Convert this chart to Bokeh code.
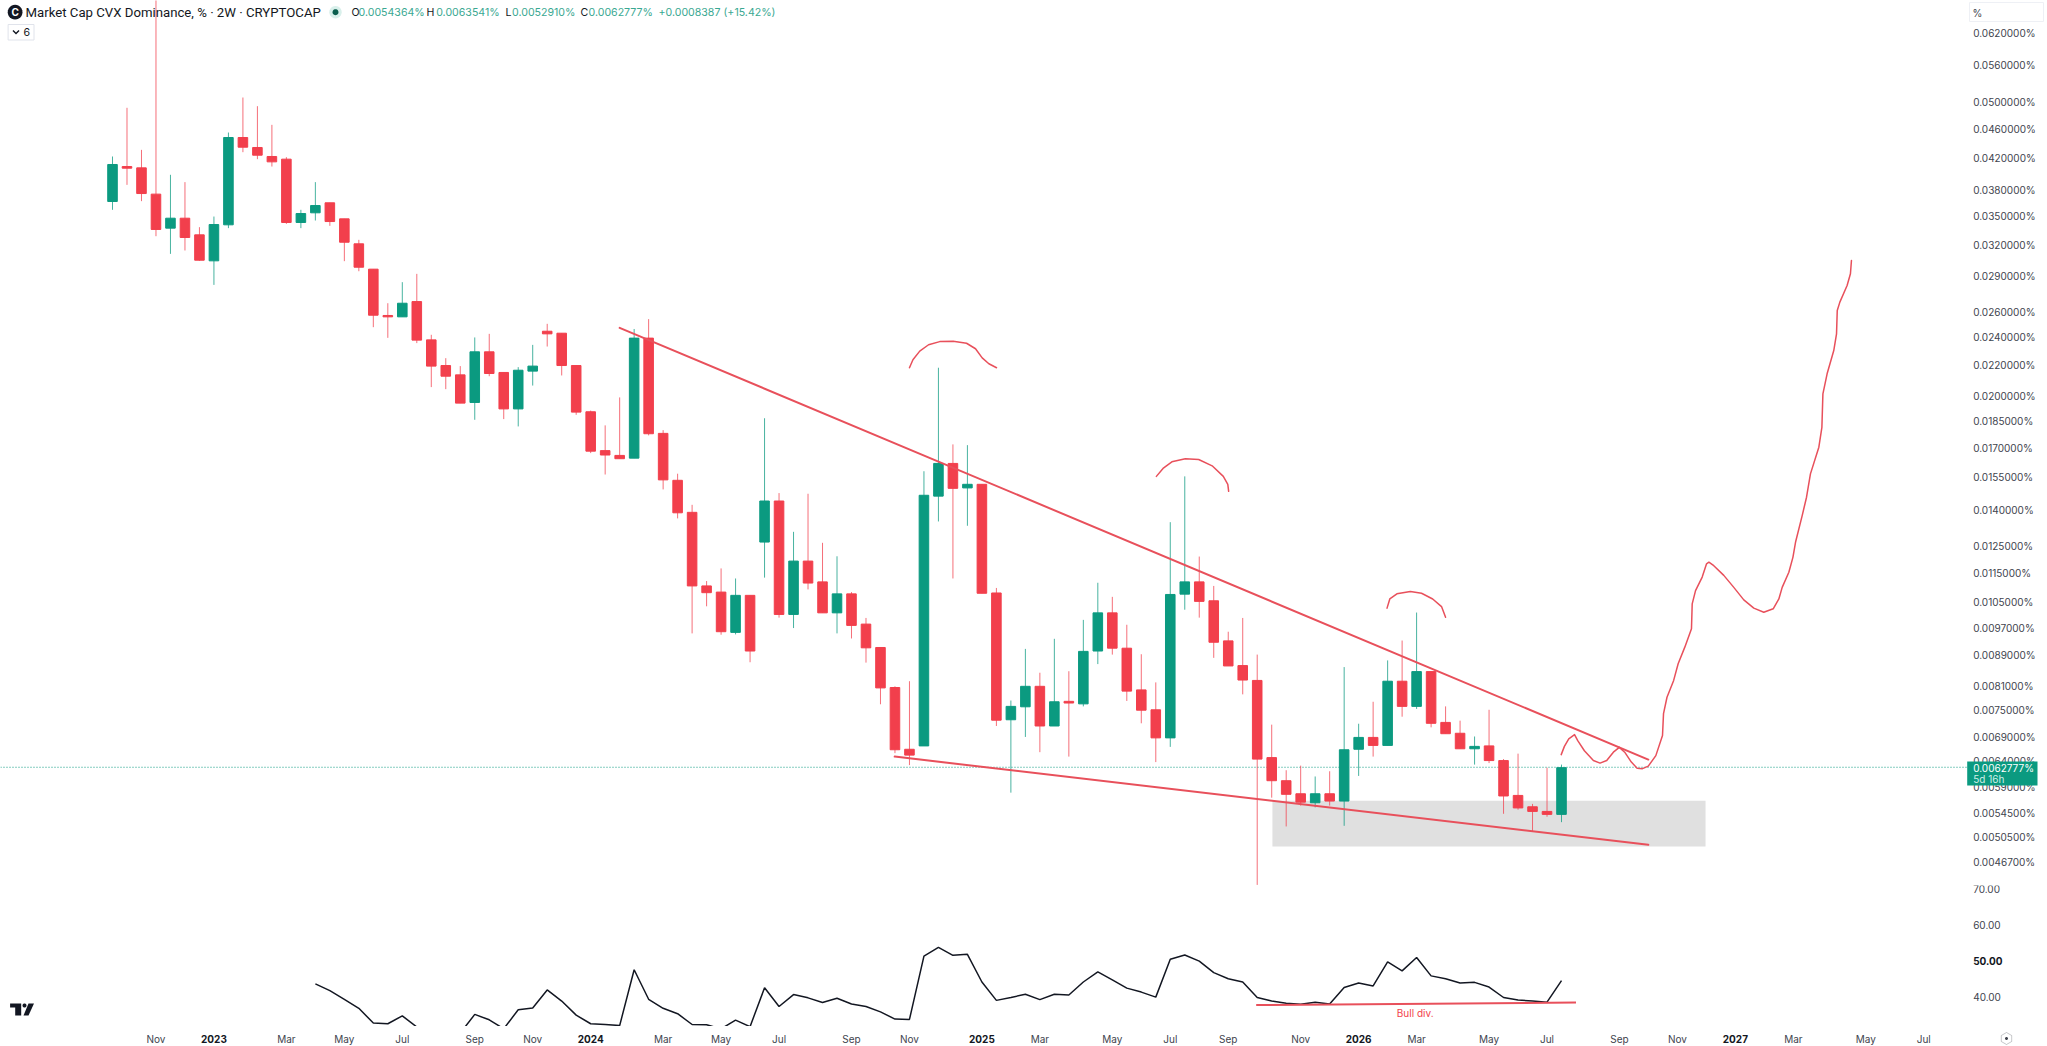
import numpy as np
from bokeh.core.properties import value
from bokeh.embed import file_html
from bokeh.resources import INLINE
from bokeh.layouts import column
from bokeh.models import ColumnDataSource, Label, PolyAnnotation, Range1d
from bokeh.plotting import figure

# Prices are in hundredths of one percent of market share (6.2 = 0.0620000%)
OPEN = [3.664,4.086,4.069,3.749,3.372,3.478,3.302,3.045,3.407,4.473,4.336,4.216,4.181,3.432,3.537,3.649,3.471,3.211,2.967,2.568,2.557,2.682,2.380,2.197,2.134,
1.958,2.293,2.150,1.919,2.159,2.445,2.430,2.197,1.902,1.685,1.660,1.646,2.393,1.778,1.536,1.390,1.105,1.084,0.956,1.073,1.267,1.440,1.011,1.194,1.119,
1.016,1.078,0.981,0.912,0.805,0.664,0.671,1.462,1.619,1.500,1.517,1.081,0.728,0.758,0.808,0.714,0.771,0.765,0.902,1.016,0.910,0.799,0.751,0.688,1.077,
1.119,1.055,0.931,0.862,0.823,0.647,0.602,0.578,0.562,0.578,0.565,0.664,0.689,0.672,0.821,0.759,0.846,0.722,0.698,0.665,0.671,0.641,0.575,0.555,0.547,
0.542]
HIGH = [4.216,4.907,4.304,7.298,3.982,3.892,3.382,3.496,4.543,5.067,4.932,4.653,4.207,3.570,3.892,3.649,3.471,3.251,2.967,2.668,2.849,2.924,2.418,2.248,2.193,
2.398,2.425,2.150,2.186,2.343,2.502,2.430,2.197,1.909,1.823,1.989,2.462,2.539,1.796,1.568,1.423,1.122,1.167,1.131,1.073,1.864,1.476,1.308,1.473,1.264,
1.212,1.084,1.000,0.912,0.808,0.821,1.580,2.182,1.718,1.714,1.517,1.098,0.773,0.908,0.843,0.937,0.847,0.994,1.116,1.068,0.979,0.893,0.818,1.348,1.555,
1.211,1.105,0.958,1.000,0.892,0.717,0.622,0.631,0.610,0.620,0.858,0.719,0.770,0.876,0.932,1.017,0.846,0.759,0.726,0.691,0.751,0.644,0.655,0.560,0.627,
0.633]
LOW = [3.570,3.859,3.668,3.288,3.112,3.145,3.045,2.825,3.372,4.273,4.181,4.086,3.417,3.372,3.453,3.396,3.042,2.948,2.476,2.395,2.557,2.356,2.054,2.041,1.954,
1.855,2.125,1.859,1.817,2.064,2.331,2.130,1.884,1.672,1.564,1.643,1.646,1.767,1.493,1.364,0.953,1.037,0.949,0.950,0.871,1.134,1.001,0.969,1.093,1.016,
0.953,0.938,0.870,0.764,0.656,0.632,0.671,1.351,1.131,1.333,1.080,0.714,0.580,0.690,0.658,0.714,0.649,0.759,0.866,0.892,0.772,0.720,0.638,0.669,1.026,
1.001,0.883,0.861,0.788,0.435,0.571,0.522,0.557,0.554,0.557,0.523,0.611,0.649,0.672,0.735,0.753,0.711,0.697,0.665,0.633,0.636,0.543,0.550,0.514,0.538,
0.529]
CLOSE = [4.112,4.065,3.756,3.358,3.478,3.275,3.051,3.410,4.473,4.340,4.233,4.146,3.432,3.529,3.618,3.442,3.227,2.985,2.570,2.557,2.668,2.378,2.193,2.125,1.954,
2.293,2.143,1.919,2.165,2.193,2.425,2.197,1.900,1.682,1.662,1.643,2.393,1.776,1.538,1.388,1.105,1.082,0.958,1.073,0.902,1.440,1.011,1.194,1.115,1.016,
1.078,0.977,0.911,0.804,0.663,0.652,1.466,1.619,1.498,1.517,1.080,0.727,0.759,0.808,0.714,0.770,0.767,0.901,1.016,0.910,0.796,0.750,0.688,1.076,1.119,
1.053,0.927,0.861,0.824,0.644,0.602,0.577,0.563,0.578,0.565,0.663,0.689,0.672,0.821,0.759,0.846,0.720,0.697,0.665,0.670,0.641,0.574,0.553,0.547,0.542,
0.627]
LAST_PRICE = 0.62777

RSI_FIRST_BAR = 14
RSI = [43.8,41.9,39.5,37.0,32.9,32.7,34.9,31.8,29.9,29.0,30.1,35.3,33.8,31.3,36.6,37.1,42.1,39.0,35.1,32.7,32.5,32.2,47.7,39.5,37.0,35.5,32.5,32.4,31.3,33.7,31.9,42.7,
37.5,40.8,39.9,38.6,39.8,38.2,37.5,36.0,
34.0,33.9,51.5,53.9,51.7,52.0,44.3,39.2,40.0,40.9,39.4,40.9,40.7,44.3,47.1,44.9,42.6,41.5,40.1,50.6,51.8,50.1,46.9,45.2,44.3,40.0,39.0,38.4,38.1,38.7,38.2,42.8,
44.0,43.2,49.9,47.4,51.1,46.0,45.2,44.0,
44.2,42.9,40.0,39.3,39.0,38.7,44.7]

PRICE_TICKS = [6.2,5.6,5.0,4.6,4.2,3.8,3.5,3.2,2.9,2.6,2.4,2.2,2.0,1.85,1.7,1.55,1.4,1.25,1.15,1.05,0.97,0.89,0.81,0.75,0.69,0.64,0.59,0.545,0.505,0.467]
PRICE_LABELS = ["0.0620000%","0.0560000%","0.0500000%","0.0460000%","0.0420000%","0.0380000%","0.0350000%","0.0320000%","0.0290000%","0.0260000%","0.0240000%","0.0220000%","0.0200000%","0.0185000%","0.0170000%","0.0155000%","0.0140000%","0.0125000%","0.0115000%","0.0105000%","0.0097000%","0.0089000%","0.0081000%","0.0075000%","0.0069000%","0.0064000%","0.0059000%","0.0054500%","0.0050500%","0.0046700%"]
RSI_TICKS = [70,60,40]
RSI_LABELS = ["70.00","60.00","40.00"]
RSI_BOLD_TICK = 50
RSI_BOLD_LABEL = "50.00"
MONTH_TICKS = [3,12,16,20,25,29,38,42,46,51,55,64,69,73,77,82,90,95,99,104,108,116,121,125]
MONTH_LABELS = ["Nov","Mar","May","Jul","Sep","Nov","Mar","May","Jul","Sep","Nov","Mar","May","Jul","Sep","Nov","Mar","May","Jul","Sep","Nov","Mar","May","Jul"]
YEAR_TICKS = [7,33,60,86,112]
YEAR_LABELS = ["2023","2024","2025","2026","2027"]

ZONE_X = [80.05,109.94]
ZONE_Y = [0.4905,0.5654]
UPPER_X = [35.0,105.99]
UPPER_Y = [2.471,0.643]
LOWER_X = [53.98,105.99]
LOWER_Y = [0.649,0.493]
ARCH1_X = [55.00,55.24,55.71,56.32,57.09,58.02,58.94,59.56,60.02,60.48,61.01]
ARCH1_Y = [2.182,2.237,2.298,2.344,2.367,2.370,2.355,2.315,2.250,2.209,2.182]
ARCH2_X = [72.04,72.50,73.11,74.04,74.96,75.89,76.66,76.97,77.03]
ARCH2_Y = [1.555,1.594,1.627,1.643,1.639,1.607,1.555,1.517,1.484]
ARCH3_X = [87.96,88.15,88.64,89.57,90.34,91.11,91.72,92.00]
ARCH3_Y = [1.031,1.061,1.078,1.086,1.080,1.061,1.036,1.002]
PATH_X = [99.98,100.20,100.50,100.90,101.12,101.58,102.20,102.66,103.12,103.58,103.99,104.36,104.82,105.22,105.59,105.99,106.51,106.97,107.04,107.28,107.74,108.05,108.51,108.97,
109.02,109.25,109.71,110.01,110.17,110.51,111.20,111.89,112.58,113.27,113.96,114.61,115.00,115.23,115.69,115.97,116.15,116.61,116.91,117.18,117.76,117.97,118.04,118.33,118.79,118.98,119.03,119.21,119.71,119.94,120.01]
PATH_Y = [0.653,0.670,0.686,0.695,0.682,0.661,0.641,0.636,0.641,0.658,0.668,0.658,0.638,0.626,0.625,0.630,0.651,0.693,0.742,0.781,0.823,0.867,0.913,0.967,
1.045,1.089,1.136,1.184,1.190,1.177,1.142,1.100,1.058,1.031,1.018,1.029,1.061,1.100,1.153,1.208,1.266,1.376,1.457,1.567,1.703,1.812,2.011,2.141,2.302,2.425,2.608,2.677,2.820,2.925,3.048]
BULL_X = [78.93,101.0]
BULL_Y = [37.9,38.6]
BULL_TEXT_AT = (89.9,35.6)

RED, GREEN, DRAW = "#f23f4c", "#0b9a80", "#e8505b"
INK, AXIS_INK, TEAL = "#131722", "#41444e", "#3aa892"
FONT = "Inter"
SCALE_PX = "10px"

W, P_H, R_H, B_H = 2047, 885, 141, 20
X0, X1 = -7.73, 133.54          # bar numbers at the page's left and right edges
SCALE_EDGE = 127.95             # where the plotting area meets the price scale
LABEL_X = 128.41                # left edge of the scale's texts

def bar_at(px):
    return (px - 112) / 14.49

def price_at(py):
    return 6.2 * np.exp(-(py - 32.3) / 320.7)

def clean(fig):
    fig.grid.visible = False
    fig.xaxis.visible = False
    fig.yaxis.visible = False

kw = dict(width=W, output_backend="svg", toolbar_location=None, min_border=0, outline_line_color=None)

p = figure(height=P_H, y_axis_type="log", x_range=Range1d(X0, X1), y_range=Range1d(0.4342, 6.857), **kw)
clean(p)

bars = np.arange(len(OPEN))
o, h, l, c = map(np.array, (OPEN, HIGH, LOW, CLOSE))
col = [GREEN if a >= b else RED for a, b in zip(c, o)]
src = ColumnDataSource(dict(x=bars, h=h, l=l, top=np.maximum(o, c), bot=np.minimum(o, c), color=col))

p.quad(left=[ZONE_X[0]], right=[ZONE_X[1]], bottom=[ZONE_Y[0]], top=[ZONE_Y[1]], color="#e0e0e0", line_width=0)
p.line([X0, SCALE_EDGE], [LAST_PRICE, LAST_PRICE], line_color=GREEN, line_dash="1 2", line_width=1)
p.segment("x", "h", "x", "l", source=src, color="color", line_width=1, line_alpha=0.75)
p.vbar("x", 0.66, "top", "bot", source=src, fill_color="color", line_color="color", line_width=1)
for xs, ys, w in [(UPPER_X, UPPER_Y, 2), (LOWER_X, LOWER_Y, 2), (ARCH1_X, ARCH1_Y, 1.5), (ARCH2_X, ARCH2_Y, 1.5), (ARCH3_X, ARCH3_Y, 1.5), (PATH_X, PATH_Y, 1.5)]:
    p.line(xs, ys, line_color=DRAW, line_width=w, line_join="round", line_cap="round")

def txt(fig, xs, ys, texts, size=SCALE_PX, color=AXIS_INK, style="normal", align="left", font=FONT):
    fig.text(x=list(xs), y=list(ys), text=list(texts), text_font=value(font), text_font_size=value(size),
             text_color=color, text_font_style=style, text_align=align, text_baseline="middle")

# Price scale
txt(p, [LABEL_X]*len(PRICE_TICKS), PRICE_TICKS, PRICE_LABELS)
p.quad(left=[bar_at(1969)], right=[bar_at(2043)], top=[price_at(2)], bottom=[price_at(21)], fill_color="#ffffff", line_color="#eef0f5", line_width=1)
txt(p, [bar_at(1972)], [price_at(12)], ["%"])
p.quad(left=[bar_at(1966.7)], right=[bar_at(2037)], top=[price_at(761)], bottom=[price_at(785)], fill_color=GREEN, line_width=0)
txt(p, [LABEL_X], [price_at(767.6)], ["0.0062777%"], color="#ffffff")
txt(p, [LABEL_X], [price_at(778.7)], ["5d 16h"], color="#cfeee8")

# Header
def poly(fig, xs, ys, fill, alpha=1.0, line=None):
    fig.add_layout(PolyAnnotation(xs=list(xs), ys=list(ys), xs_units="canvas", ys_units="canvas",
                                  fill_color=fill, fill_alpha=alpha, line_color=line, line_width=1))

def disc(fig, cx, cy, rad, fill):
    t = np.linspace(0, 2*np.pi, 24, endpoint=False)
    poly(fig, cx+rad*np.cos(t), cy+rad*np.sin(t), fill)

disc(p, 14.6, 11.7, 7.4, "#131722")
p.add_layout(Label(x=bar_at(14.6), y=float(price_at(11.7)), text="C", text_font=FONT, text_font_size="10px",
                   text_color="#ffffff", text_font_style="bold", text_align="center", text_baseline="middle"))
txt(p, [bar_at(25)], [price_at(11.7)], ["Market Cap CVX Dominance, % · 2W · CRYPTOCAP"], "13.2px", INK, font="Roboto")
disc(p, 335, 11.7, 6.2, "#d9f0eb")
disc(p, 335, 11.7, 3, "#0b5e4e")
for x, t, cl in [(351,"O",INK),(358,"0.0054364%",TEAL),(426,"H",INK),(435.7,"0.0063541%",TEAL),(505,"L",INK),(511.5,"0.0052910%",TEAL),(580,"C",INK),(588,"0.0062777%",TEAL),(658,"+0.0008387",TEAL),(723,"(+15.42%)",TEAL)]:
    txt(p, [bar_at(x)], [price_at(11.7)], [t], "10.6px", cl)
p.quad(left=[bar_at(7.6)], right=[bar_at(33.5)], top=[price_at(24)], bottom=[price_at(39.5)], fill_color="#ffffff", line_color="#e0e3eb", line_width=1)
poly(p, [13,15.5,18,19,15.5,12], [29.5,32,29.5,30.5,34,30.5], "#131722")
txt(p, [bar_at(23)], [price_at(31.8)], ["6"], "10.6px", INK)

# RSI pane
r = figure(height=R_H, x_range=p.x_range, y_range=Range1d(31.94, 71.11), **kw)
clean(r)
r.line(bars[RSI_FIRST_BAR:], RSI, line_color=INK, line_width=1.5)
r.line(BULL_X, BULL_Y, line_color=DRAW, line_width=2)
txt(r, [LABEL_X]*len(RSI_TICKS), RSI_TICKS, RSI_LABELS)
txt(r, [LABEL_X], [RSI_BOLD_TICK], [RSI_BOLD_LABEL], color=INK, style="bold")
txt(r, [BULL_TEXT_AT[0]], [BULL_TEXT_AT[1]], ["Bull div."], color=RED, align="center")
poly(r, [9.6,20.7,20.7,14.7,14.7,9.6], [118,118,130,130,122,122], "#131722")
disc(r, 24, 120, 2, "#131722")
poly(r, [28,33.5,28,23], [118,118,130,130], "#131722")

# Time scale
b = figure(height=B_H, x_range=p.x_range, y_range=Range1d(B_H, 0), **kw)
clean(b)
txt(b, MONTH_TICKS, [12]*len(MONTH_TICKS), MONTH_LABELS, align="center")
txt(b, YEAR_TICKS, [12]*len(YEAR_TICKS), YEAR_LABELS, color=INK, style="bold", align="center")
t6 = np.linspace(0, 2*np.pi, 6, endpoint=False) + np.pi/6
poly(b, 2006+6*np.cos(t6), 12+6*np.sin(t6), None, 0, AXIS_INK)
disc(b, 2006, 12, 1.5, AXIS_INK)

page = column(p, r, b, spacing=0)
open("out.html", "w").write(file_html(page, INLINE))
